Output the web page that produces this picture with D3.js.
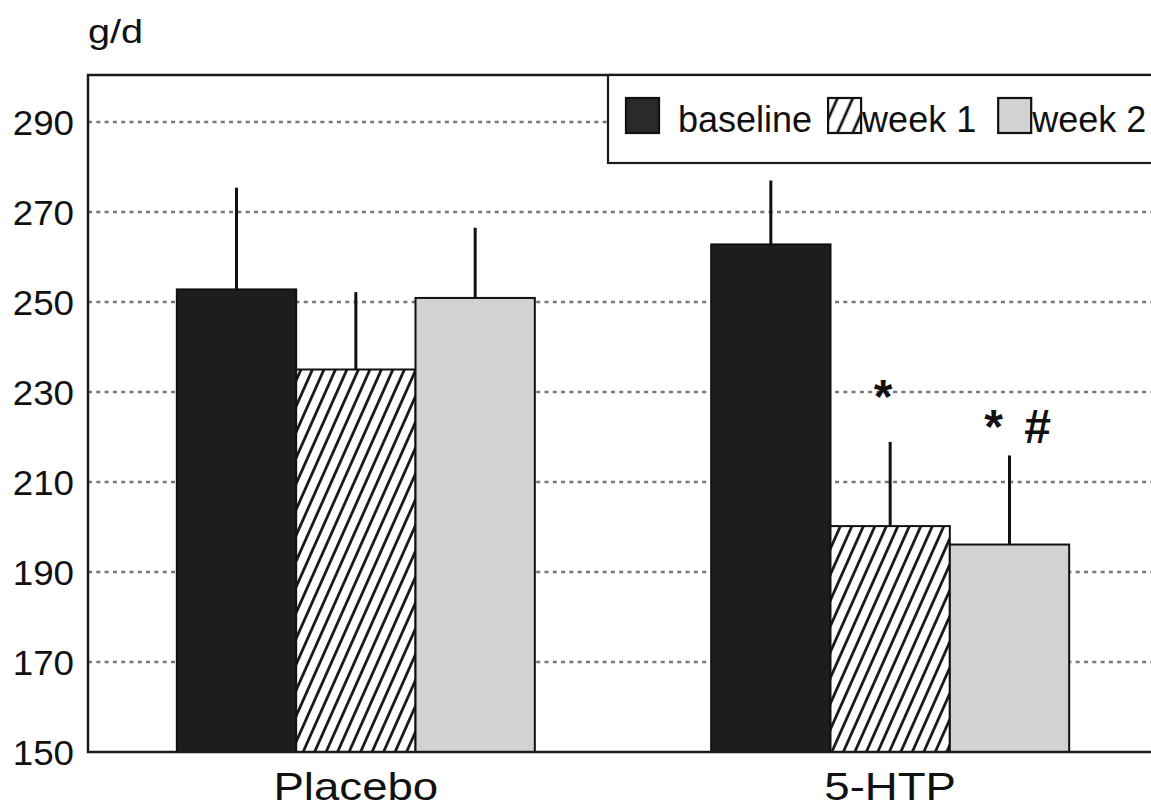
<!DOCTYPE html>
<html><head><meta charset="utf-8">
<script src="https://cdn.jsdelivr.net/npm/d3@7"></script>
<style>body{margin:0;background:#fff} svg{display:block}</style>
</head><body><svg id="c" width="1151" height="809"></svg>
<script>
// ---- data ----
const categories = ["Placebo", "5-HTP"];
const seriesNames = ["baseline", "week 1", "week 2"];
const placeboMeans = [252.8, 235.0, 250.9];
const placeboErr = [22.6, 17.2, 15.6];
const htpMeans = [262.8, 200.2, 196.1];
const htpErr = [14.2, 18.7, 19.8];
const yTicks = [150, 170, 190, 210, 230, 250, 270, 290];
const yDomain = [150, 300];
const yLabel = "g/d";
const annoCategory = ["5-HTP", "5-HTP"];
const annoSeries = ["week 1", "week 2"];
const annoText = ["*", "* #"];
const annoAt = [225.3, 218.6];

const rows = [];
categories.forEach((c, ci) => {
  const m = ci === 0 ? placeboMeans : htpMeans;
  const e = ci === 0 ? placeboErr : htpErr;
  seriesNames.forEach((s, si) => rows.push({cat: c, series: s, mean: m[si], err: e[si]}));
});

// ---- layout ----
const W = 1151, H = 809;
const L = 88, T = 75, B = 752, R = 1170;
const svg = d3.select("#c");
const font = "'Liberation Sans', Arial, Helvetica, sans-serif";

const y = d3.scaleLinear().domain(yDomain).range([B, 77]);
const x0 = d3.scaleBand().domain(categories).range([86, 1160]).paddingInner(0.33).paddingOuter(0.17);
const x1 = d3.scaleBand().domain(seriesNames).range([0, x0.bandwidth()]);

const defs = svg.append("defs");
function hatch(id, w, sw) {
  const p = defs.append("pattern").attr("id", id).attr("patternUnits", "userSpaceOnUse")
    .attr("width", w).attr("height", w).attr("patternTransform", "rotate(24)");
  p.append("rect").attr("width", w).attr("height", w).attr("fill", "#fff");
  p.append("line").attr("x1", w / 2).attr("x2", w / 2).attr("y1", -1).attr("y2", w + 1)
    .attr("stroke", "#111").attr("stroke-width", sw);
}
hatch("hatch", 10.5, 2.7);
hatch("hatchL", 14, 2.7);
const fills = {"baseline": "#1d1d1d", "week 1": "url(#hatch)", "week 2": "#d2d2d2"};
const legendFills = {"baseline": "#2a2a2a", "week 1": "url(#hatchL)", "week 2": "#d2d2d2"};

// gridlines
svg.append("g").selectAll("line").data(yTicks.filter(d => d > yDomain[0])).join("line")
  .attr("x1", L).attr("x2", W).attr("y1", d => y(d)).attr("y2", d => y(d))
  .attr("stroke", "#777").attr("stroke-width", 2.5).attr("stroke-dasharray", "4,4.3");

// y tick labels
svg.append("g").selectAll("text").data(yTicks).join("text")
  .attr("transform", d => `translate(74,${y(d) + 12.5}) scale(1.05,1)`)
  .attr("text-anchor", "end").attr("font-family", font).attr("font-size", 35).attr("fill", "#111")
  .text(d => d);

// bars
const g = svg.append("g");
g.selectAll("rect").data(rows).join("rect")
  .attr("x", d => x0(d.cat) + x1(d.series))
  .attr("y", d => y(d.mean))
  .attr("width", x1.bandwidth())
  .attr("height", d => y(yDomain[0]) - y(d.mean))
  .attr("fill", d => fills[d.series])
  .attr("stroke", "#111").attr("stroke-width", 2);

// error bars
g.selectAll("line.err").data(rows).join("line").attr("class", "err")
  .attr("x1", d => x0(d.cat) + x1(d.series) + x1.bandwidth() / 2)
  .attr("x2", d => x0(d.cat) + x1(d.series) + x1.bandwidth() / 2)
  .attr("y1", d => y(d.mean)).attr("y2", d => y(d.mean + d.err))
  .attr("stroke", "#111").attr("stroke-width", 3);

// annotations
svg.append("g").selectAll("text").data(annoText).join("text")
  .attr("x", (d, i) => x0(annoCategory[i]) + x1(annoSeries[i]) + x1.bandwidth() / 2 + (i === 0 ? -7 : 8))
  .attr("y", (d, i) => y(annoAt[i]))
  .attr("text-anchor", "middle").attr("font-family", font).attr("font-weight", "bold")
  .attr("font-size", 48).attr("fill", "#111").attr("xml:space", "preserve")
  .attr("word-spacing", 8)
  .text(d => d);

// frame
svg.append("path").attr("d", `M${R},${T}H${L}V${B}H${R}`).attr("fill", "none")
  .attr("stroke", "#1a1a1a").attr("stroke-width", 2.5);

// x labels
svg.append("g").selectAll("text").data(categories).join("text")
  .attr("transform", d => `translate(${x0(d) + x0.bandwidth() / 2},800) scale(1.2,1)`)
  .attr("text-anchor", "middle").attr("font-family", font).attr("font-size", 38).attr("fill", "#111")
  .text(d => d);

// y unit label
svg.append("text").attr("transform", "translate(88,43) scale(1.2,1)")
  .attr("font-family", font).attr("font-size", 33).attr("fill", "#111").text(yLabel);

// legend
const lg = svg.append("g");
lg.append("rect").attr("x", 608).attr("y", T).attr("width", 700).attr("height", 88)
  .attr("fill", "#fff").attr("stroke", "#1a1a1a").attr("stroke-width", 2.2);
const gaps = [19, 1, 1];
let cx = 626;
seriesNames.forEach((s, i) => {
  lg.append("rect").attr("x", cx).attr("y", 98).attr("width", 33).attr("height", 35)
    .attr("fill", legendFills[s]).attr("stroke", "#111").attr("stroke-width", 2.2);
  const t = lg.append("text").attr("x", cx + 33 + gaps[i]).attr("y", 132)
    .attr("font-family", font).attr("font-size", 36).attr("fill", "#111").text(s);
  cx = cx + 33 + gaps[i] + t.node().getComputedTextLength() + (i === 0 ? 16 : 22);
});
</script></body></html>
